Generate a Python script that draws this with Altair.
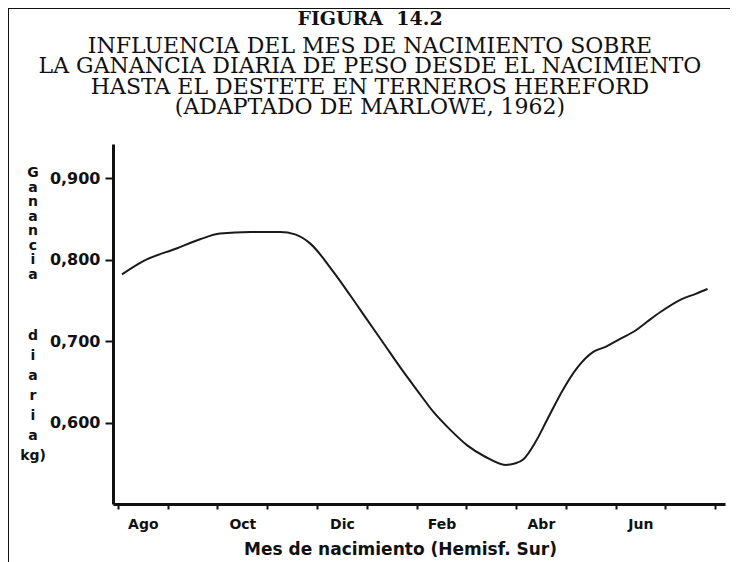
import json
import altair as alt
import pandas as pd

# ---- data ----
# month position: 0 = start of Ago, 1 month per unit
month_pos = [0.08, 0.50, 1.19, 1.65, 2.05, 2.66, 3.26, 3.56, 3.86, 4.33, 4.67, 5.01,
             5.33, 5.67, 6.02, 6.34, 6.68, 7.02, 7.38, 7.79, 7.99, 8.15, 8.39, 8.63,
             8.95, 9.24, 9.56, 9.80, 10.10, 10.40, 10.64, 10.91, 11.31, 11.61, 11.85]
gain_kg = [0.782, 0.798, 0.814, 0.825, 0.832, 0.834, 0.834, 0.831, 0.820, 0.785, 0.756, 0.726,
           0.698, 0.668, 0.639, 0.613, 0.591, 0.572, 0.558, 0.548, 0.550, 0.555, 0.576, 0.604,
           0.641, 0.668, 0.687, 0.693, 0.703, 0.713, 0.724, 0.736, 0.751, 0.758, 0.764]
months = ["Ago", "Sep", "Oct", "Nov", "Dic", "Ene", "Feb", "Mar", "Abr", "May", "Jun", "Jul"]
y_ticks = [0.6, 0.7, 0.8, 0.9]
x_ticks = [i * 0.5 for i in range(25)]

title_main = "FIGURA\u00a0\u00a014.2"
title_lines = [
    "INFLUENCIA DEL MES DE NACIMIENTO SOBRE",
    "LA GANANCIA DIARIA DE PESO DESDE EL NACIMIENTO",
    "HASTA EL DESTETE EN TERNEROS HEREFORD",
    "(ADAPTADO DE MARLOWE, 1962)",
]
y_title_1 = list("Ganancia")
y_title_2 = list("diaria") + ["kg)"]
x_title = "Mes de nacimiento (Hemisf. Sur)"

df = pd.DataFrame({"m": month_pos, "g": gain_kg})

label_expr = (
    "(datum.value % 2 == 0.5) ? " + json.dumps(months) + "[floor(datum.value)] : ''"
)

line = alt.Chart(df).mark_line(
    interpolate="monotone", color="#1a1a1a", strokeWidth=2
).encode(
    x=alt.X(
        "m:Q",
        scale=alt.Scale(domain=[-0.1, 12.2], nice=False, zero=False),
        axis=alt.Axis(
            values=x_ticks,
            labelExpr=label_expr,
            tickOpacity={"condition": {"test": "datum.value % 1 == 0", "value": 1}, "value": 0},
            tickSize=5,
            tickWidth=2,
            tickColor="#111",
            domainColor="#111",
            domainWidth=3,
            grid=False,
            labelFont="DejaVu Sans",
            labelFontWeight="bold",
            labelFontSize=14,
            labelColor="#111",
            labelPadding=8,
            labelFlush=False,
            labelOverlap=False,
            title=x_title,
            titleFont="DejaVu Sans",
            titleFontWeight="bold",
            titleFontSize=17,
            titleColor="#111",
            titleX=287,
            titleY=45,
            titleBaseline="middle",
        ),
    ),
    y=alt.Y(
        "g:Q",
        scale=alt.Scale(domain=[0.5, 0.942], nice=False, zero=False),
        axis=alt.Axis(
            values=y_ticks,
            labelExpr="replace(format(datum.value, '.3f'), '.', ',')",
            tickSize=8,
            tickWidth=2,
            tickColor="#111",
            domainColor="#111",
            domainWidth=3,
            grid=False,
            labelFont="DejaVu Sans",
            labelFontWeight="bold",
            labelFontSize=16,
            labelColor="#111",
            labelPadding=5,
            title=None,
        ),
    ),
)

one = pd.DataFrame({"k": [0]})
frame_left = alt.Chart(one).mark_rule(color="#111", strokeWidth=2).encode(
    x=alt.value(-105), y=alt.value(-136), y2=alt.value(419)
)
frame_top = alt.Chart(one).mark_rule(color="#111", strokeWidth=2).encode(
    x=alt.value(-105), x2=alt.value(617), y=alt.value(-136)
)
head = alt.Chart(one).mark_text(
    text=title_main, font="DejaVu Serif", fontSize=19, fontWeight="bold",
    color="#111", align="center", baseline="middle",
).encode(x=alt.value(257), y=alt.value(-125))
sub = alt.Chart(one).mark_text(
    text=title_lines, font="DejaVu Serif", fontSize=22, lineHeight=20.3,
    color="#111", align="center", baseline="top",
).encode(x=alt.value(257), y=alt.value(-108))
ytitle_a = alt.Chart(one).mark_text(
    text=y_title_1, font="DejaVu Sans", fontSize=14, fontWeight="bold", lineHeight=14.5,
    color="#111", align="center", baseline="top",
).encode(x=alt.value(-80), y=alt.value(22))
ytitle_b = alt.Chart(one).mark_text(
    text=y_title_2, font="DejaVu Sans", fontSize=14, fontWeight="bold", lineHeight=20,
    color="#111", align="center", baseline="top",
).encode(x=alt.value(-80), y=alt.value(185))

chart = alt.layer(line, frame_left, frame_top, head, sub, ytitle_a, ytitle_b).properties(
    width=612,
    height=360,
    autosize=alt.AutoSizeParams(type="none"),
    padding={"left": 105, "top": 136, "right": 5, "bottom": 58},
    background="white",
).configure_view(stroke=None)

chart.save("out.html", embed_options={"renderer": "svg", "actions": False})
